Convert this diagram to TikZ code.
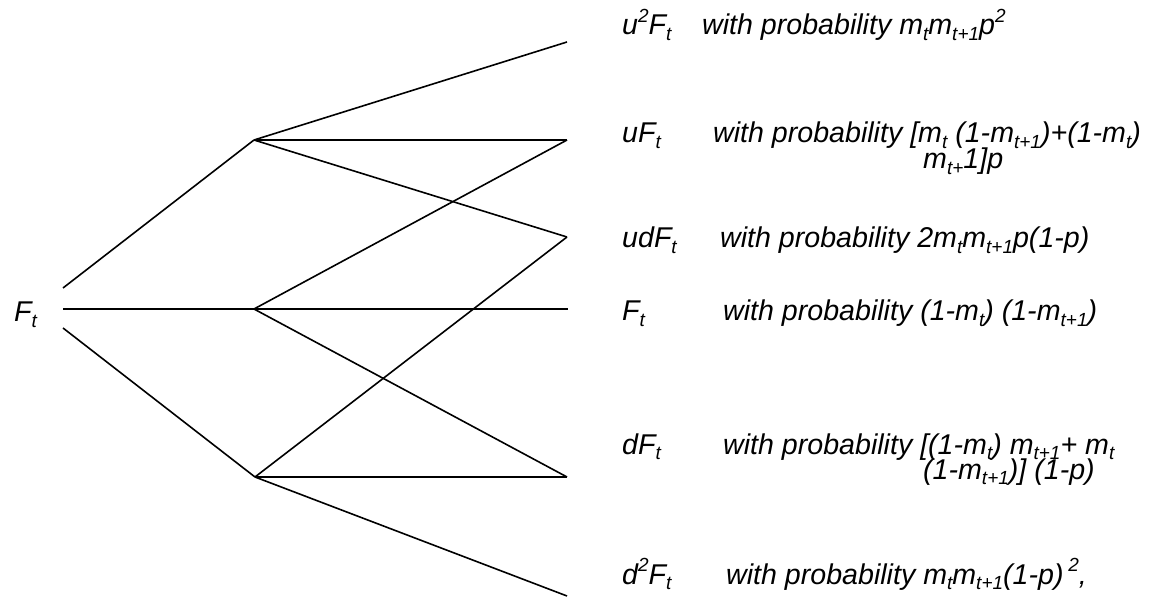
\documentclass[tikz,border=0pt]{standalone}
\usepackage{fontspec}
\setmainfont{Liberation Sans}
\newcommand\sbs[1]{\raisebox{-0.18em}{\fontsize{19}{19}\selectfont #1}}
\newcommand\sps[1]{\raisebox{0.42em}{\fontsize{19}{19}\selectfont #1}}
\begin{document}
\begin{tikzpicture}[x=1pt,y=-1pt,
  edge/.style={line width=1.6pt,black},
  lbl/.style={anchor=base west,inner sep=0pt,font=\fontsize{28.6}{28.6}\selectfont\itshape}]
\useasboundingbox (0,0) rectangle (1152,612);
% root label
\node[lbl] (root) at (14,322) {F\sbs{t}};
% connection points
\coordinate (r1) at (63,288);
\coordinate (r2) at (63,309);
\coordinate (r3) at (63,328);
\coordinate (A) at (254,140);
\coordinate (B) at (254,309);
\coordinate (C) at (255,477);
\coordinate (e1) at (567,42);
\coordinate (e2) at (567,140);
\coordinate (e3) at (567,237);
\coordinate (e4) at (568,309);
\coordinate (e5) at (567,477);
\coordinate (e6) at (567,596);
% edges
\draw[edge] (r1) -- (A);
\draw[edge] (r2) -- (B);
\draw[edge] (r3) -- (C);
\draw[edge] (A) -- (e1);
\draw[edge] (A) -- (e2);
\draw[edge] (A) -- (e3);
\draw[edge] (B) -- (e2);
\draw[edge] (B) -- (e4);
\draw[edge] (B) -- (e5);
\draw[edge] (C) -- (e3);
\draw[edge] (C) -- (e5);
\draw[edge] (C) -- (e6);
% labels
\node[lbl] (l1) at (622,35) {u\sps{2}F\sbs{t}};
\node[lbl] (p1) at (702,35) {with probability m\sbs{t}m\sbs{t+1}p\sps{2}};
\node[lbl] (l2) at (622,143) {uF\sbs{t}};
\node[lbl] (p2) at (713,143) {with probability [m\sbs{t} (1-m\sbs{t+1})+(1-m\sbs{t})};
\node[lbl] (q2) at (923,169) {m\sbs{t+}1]p};
\node[lbl] (l3) at (622,248) {udF\sbs{t}};
\node[lbl] (p3) at (720,248) {with probability 2m\sbs{t}m\sbs{t+1}p(1-p)};
\node[lbl] (l4) at (622,321) {F\sbs{t}};
\node[lbl] (p4) at (723,321) {with probability (1-m\sbs{t}) (1-m\sbs{t+1})};
\node[lbl] (l5) at (622,454) {dF\sbs{t}};
\node[lbl] (p5) at (723,454) {with probability [(1-m\sbs{t}) m\sbs{t+1}+ m\sbs{t}};
\node[lbl] (q5) at (923,479) {(1-m\sbs{t+1})] (1-p)};
\node[lbl] (l6) at (622,584) {d\sps{2}F\sbs{t}};
\node[lbl] (p6) at (726,584) {with probability m\sbs{t}m\sbs{t+1}(1-p)\,\sps{2},};
\end{tikzpicture}
\end{document}
